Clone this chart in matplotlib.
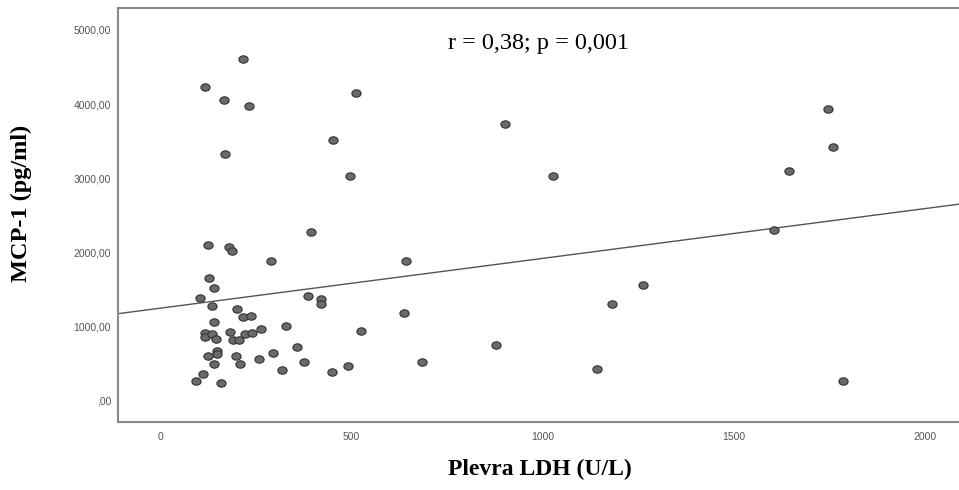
import numpy as np
import matplotlib.pyplot as plt
from matplotlib.path import Path
from matplotlib.ticker import FuncFormatter

# Plevra LDH (U/L) vs MCP-1 (pg/ml)
ldh = [218, 118, 166, 232, 171, 512, 453, 498, 902, 1027, 1746, 1760, 1644,
       125, 180, 188, 291, 395, 642, 128, 142, 105, 136, 201, 217, 239,
       386, 420, 421, 638, 142, 329, 265, 526, 118, 118, 137, 146, 183,
       191, 206, 221, 241, 359, 295, 149, 149, 126, 199, 140, 208, 260,
       377, 492, 318, 450, 112, 94, 160, 686, 878, 1142, 1182, 1263, 1605, 1786]
mcp1 = [4600, 4236, 4057, 3976, 3333, 4155, 3513, 3036, 3733, 3028, 3931, 3419, 3096,
        2102, 2080, 2022, 1887, 2278, 1887, 1662, 1527, 1388, 1284, 1244, 1132, 1150,
        1415, 1375, 1303, 1190, 1061, 1007, 970, 943, 916, 863, 899, 836, 930,
        822, 822, 903, 912, 724, 651, 670, 633, 606, 606, 503, 503, 570,
        522, 472, 414, 387, 368, 274, 247, 530, 751, 435, 1311, 1563, 2309, 274]

x_ticks = [0, 500, 1000, 1500, 2000]
y_ticks = [0, 1000, 2000, 3000, 4000, 5000]
stat_text = "r = 0,38; p = 0,001"

# slightly flattened dot, like the SPSS export
circ = Path.unit_circle()
oval = Path(circ.vertices * np.array([1.0, 0.8]), circ.codes)

fig = plt.figure(figsize=(9.59, 4.90), dpi=100)
ax = fig.add_axes([0.123, 0.139, 0.877, 0.845])

ax.scatter(ldh, mcp1, marker=oval, s=44, facecolor='#6a6a6a',
           edgecolor='#333333', linewidths=0.8, zorder=3)

# linear fit line
xlim = (-110, 2089)
k, b = np.polyfit(ldh, mcp1, 1)
xs = np.array(xlim)
ax.plot(xs, k * xs + b, color='#555555', lw=1.0, zorder=2)

ax.set_xlim(*xlim)
ax.set_ylim(-283, 5296)
ax.set_xticks(x_ticks)
ax.set_yticks(y_ticks)

def fmt_y(v, pos):
    s = f"{v:.2f}".replace('.', ',')
    return ",00" if v == 0 else s

ax.yaxis.set_major_formatter(FuncFormatter(fmt_y))
ax.xaxis.set_major_formatter(FuncFormatter(lambda v, p: f"{int(v)}"))
ax.tick_params(length=0, labelsize=7.5, labelcolor='#555555')
ax.tick_params(axis='y', pad=5)
ax.tick_params(axis='x', pad=7)
for lab in ax.get_xticklabels() + ax.get_yticklabels():
    lab.set_family('Liberation Sans')

for side in ['left', 'top', 'bottom']:
    ax.spines[side].set_color('#8a8a8a')
    ax.spines[side].set_linewidth(1.5)
ax.spines['right'].set_visible(False)

ax.text(0.5, 0.915, stat_text, transform=ax.transAxes, ha='center', va='center',
        family='Liberation Serif', fontsize=17.5)

fig.text(0.563, 0.041, "Plevra LDH (U/L)", ha='center', va='center',
         family='Liberation Serif', fontweight='bold', fontsize=17)
fig.text(0.022, 0.585, "MCP-1 (pg/ml)", ha='center', va='center', rotation=90,
         family='Liberation Serif', fontweight='bold', fontsize=17.5)

fig.savefig('out.png', dpi=100)
